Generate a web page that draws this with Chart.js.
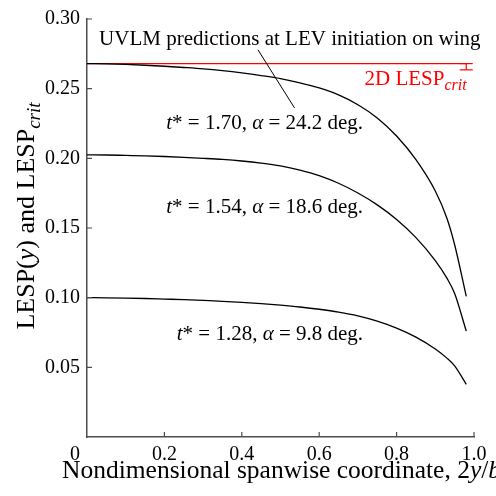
<!DOCTYPE html>
<html>
<head>
    <script src="https://cdn.jsdelivr.net/npm/chart.js@4.4.1/dist/chart.umd.min.js"></script>
</head>
<body>
    <canvas id="lespChart" width="496" height="496" role="img" aria-label="Spanwise LESP distributions at LEV initiation"></canvas>
</body>
</html>

<script>
    // Spanwise stations, 2y/b
    const span = [0, 0.05, 0.1, 0.15, 0.2, 0.25, 0.3, 0.35, 0.4, 0.45, 0.5, 0.55, 0.6, 0.65, 0.7, 0.75, 0.8, 0.85, 0.9, 0.93, 0.95, 0.98];
    // UVLM LESP(y) for the three cases
    const lespT170 = [0.268, 0.2678, 0.2674, 0.2668, 0.2661, 0.2652, 0.2642, 0.2629, 0.2613, 0.2594, 0.2572, 0.2542, 0.2505, 0.2455, 0.2385, 0.229, 0.216, 0.199, 0.1765, 0.157, 0.138, 0.101];
    const lespT154 = [0.2025, 0.2024, 0.2021, 0.2018, 0.2013, 0.2007, 0.2000, 0.1992, 0.1981, 0.1966, 0.1946, 0.1916, 0.1876, 0.1821, 0.1751, 0.1666, 0.1561, 0.1431, 0.1266, 0.114, 0.103, 0.076];
    const lespT128 = [0.1000, 0.0999, 0.0997, 0.0994, 0.0990, 0.0986, 0.0980, 0.0974, 0.0966, 0.0957, 0.0946, 0.0933, 0.0917, 0.0897, 0.0870, 0.0832, 0.0782, 0.0717, 0.0632, 0.0566, 0.0510, 0.0378];
    // 2D critical LESP and its lower bound
    const critSpan = [0, 0.98];
    const lespCrit = 0.268;
    const lespCritLow = 0.2635;
    const caseLabels = [
        ['1.70', '24.2'],
        ['1.54', '18.6'],
        ['1.28', '9.8']
    ];

    const serif = '"Liberation Serif", "Times New Roman", Times, serif';
    const font = (size, italic) => (italic ? 'italic ' : '') + size + 'px ' + serif;
    const axisGray = '#4d4d4d';

    const toPoints = (xs, ys) => xs.map((x, i) => ({ x: x, y: ys[i] }));

    // draw a row of mixed-style text pieces
    const drawRuns = (ctx, runs, x, y, align) => {
        let total = 0;
        runs.forEach(r => {
            ctx.font = font(r.size, r.it);
            r.w = ctx.measureText(r.t).width;
            total += r.w;
        });
        let cx = align === 'right' ? x - total : align === 'center' ? x - total / 2 : x;
        ctx.textAlign = 'left';
        ctx.textBaseline = 'alphabetic';
        runs.forEach(r => {
            ctx.font = font(r.size, r.it);
            ctx.fillText(r.t, cx, y + (r.dy || 0));
            cx += r.w;
        });
    };

    const caseRuns = (t, a) => [
        { t: 't', size: 21, it: true },
        { t: '*', size: 21 },
        { t: ' = ' + t + ', ', size: 21 },
        { t: '\u03b1', size: 21, it: true },
        { t: ' = ' + a + ' deg.', size: 21 }
    ];

    // inward tick marks, annotations and axis titles
    const decorations = {
        id: 'decorations',
        afterDraw(chart) {
            const ctx = chart.ctx;
            const xs = chart.scales.x;
            const ys = chart.scales.y;
            const area = chart.chartArea;
            const px = v => xs.getPixelForValue(v);
            const py = v => ys.getPixelForValue(v);

            ctx.save();
            ctx.strokeStyle = axisGray;
            ctx.lineWidth = 1.2;
            ctx.beginPath();
            xs.ticks.forEach(t => {
                if (t.value === 0) return;
                ctx.moveTo(px(t.value), area.bottom);
                ctx.lineTo(px(t.value), area.bottom - 5);
            });
            ys.ticks.forEach(t => {
                if (t.value === 0) return;
                ctx.moveTo(area.left, py(t.value));
                ctx.lineTo(area.left + 5, py(t.value));
            });
            ctx.stroke();

            ctx.fillStyle = '#000';
            // shared origin label
            ctx.font = font(20);
            ctx.textAlign = 'right';
            ctx.textBaseline = 'alphabetic';
            ctx.fillText('0', area.left - 7, area.bottom + 23);

            // heading and its leader line
            drawRuns(ctx, [{ t: 'UVLM predictions at LEV initiation on wing', size: 21 }], px(0.524), py(0.2812), 'center');
            ctx.strokeStyle = '#000';
            ctx.lineWidth = 1;
            ctx.beginPath();
            ctx.moveTo(px(0.4417), py(0.2779));
            ctx.lineTo(px(0.5362), py(0.2362));
            ctx.stroke();

            // case labels
            const labelY = [0.2212, 0.1607, 0.0698];
            caseLabels.forEach((c, i) => {
                drawRuns(ctx, caseRuns(c[0], c[1]), px(0.7135), py(labelY[i]), 'right');
            });

            // 2D critical value label
            ctx.fillStyle = '#ff0000';
            drawRuns(ctx, [
                { t: '2D LESP', size: 21 },
                { t: 'crit', size: 16, it: true, dy: 5 }
            ], px(0.717), py(0.2529), 'left');

            // axis titles
            ctx.fillStyle = '#000';
            drawRuns(ctx, [
                { t: 'Nondimensional spanwise coordinate, 2', size: 25.5 },
                { t: 'y', size: 25.5, it: true },
                { t: '/', size: 25.5 },
                { t: 'b', size: 25.5, it: true }
            ], 62, 478, 'left');

            ctx.translate(34, 216);
            ctx.rotate(-Math.PI / 2);
            drawRuns(ctx, [
                { t: 'LESP(', size: 26 },
                { t: 'y', size: 26, it: true },
                { t: ') and LESP', size: 26 },
                { t: 'crit', size: 19, it: true, dy: 6 }
            ], 0, 0, 'center');
            ctx.restore();
        }
    };

    const curve = (pts) => ({
        data: pts,
        borderColor: '#000',
        borderWidth: 1.3,
        pointRadius: 0,
        cubicInterpolationMode: 'monotone',
        showLine: true
    });

    new Chart(document.getElementById('lespChart'), {
        type: 'scatter',
        data: {
            datasets: [
                curve(toPoints(span, lespT170)),
                curve(toPoints(span, lespT154)),
                curve(toPoints(span, lespT128)),
                {
                    data: critSpan.map(x => ({ x: x, y: lespCrit })),
                    borderColor: '#ff0000',
                    borderWidth: 1.2,
                    pointRadius: 0,
                    showLine: true
                },
                {
                    // error bar at the tip
                    data: [{ x: critSpan[1], y: lespCrit }, { x: critSpan[1], y: lespCritLow }],
                    borderColor: '#ff0000',
                    borderWidth: 1.2,
                    pointStyle: 'line',
                    pointRadius: 6.5,
                    pointBorderWidth: 1.2,
                    pointBorderColor: '#ff0000',
                    showLine: true
                }
            ]
        },
        options: {
            responsive: false,
            animation: false,
            layout: { padding: { top: 12, right: 22, left: 0, bottom: 0 } },
            plugins: { legend: { display: false }, tooltip: { enabled: false } },
            scales: {
                x: {
                    type: 'linear',
                    min: 0,
                    max: 1,
                    grid: { display: false, drawTicks: false },
                    border: { display: true, color: axisGray, width: 1.5 },
                    ticks: {
                        stepSize: 0.2,
                        padding: 6,
                        color: '#000',
                        font: { family: serif, size: 20 },
                        maxRotation: 0,
                        callback: v => v === 0 ? '' : v.toFixed(1)
                    },
                    afterFit: scale => { scale.height = 59; }
                },
                y: {
                    type: 'linear',
                    min: 0,
                    max: 0.30,
                    grid: { display: false, drawTicks: false },
                    border: { display: true, color: axisGray, width: 1.5 },
                    ticks: {
                        stepSize: 0.05,
                        padding: 7,
                        color: '#000',
                        font: { family: serif, size: 20 },
                        callback: v => v === 0 ? '' : v.toFixed(2)
                    },
                    afterFit: scale => { scale.width = 87; }
                }
            }
        },
        plugins: [decorations]
    });
</script>

<style>
html, body {
    margin: 0;
    padding: 0;
    background: #fff;
}
canvas {
    display: block;
}
</style>
